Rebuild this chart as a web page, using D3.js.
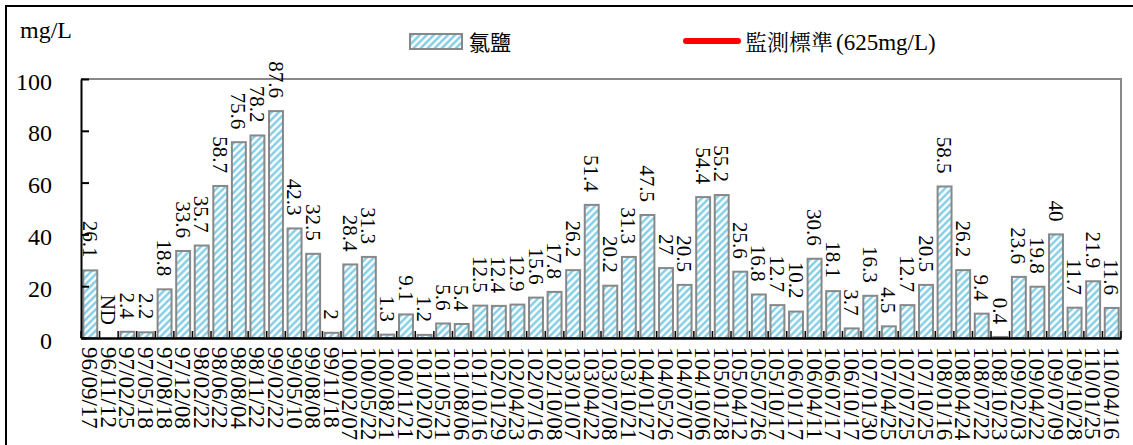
<!DOCTYPE html>
<html><head><meta charset="utf-8">
<script src="https://cdn.jsdelivr.net/npm/d3@7"></script>
<style>
html,body{margin:0;padding:0;background:#fff;}
svg{display:block;}
</style>
</head><body>
<svg id="chart" width="1133" height="445"></svg>
<script>
const categories = ["96/09/17","96/11/12","97/02/25","97/05/18","97/08/18","97/12/08","98/02/22","98/06/22","98/08/04","98/11/22","99/02/22","99/05/10","99/08/08","99/11/18","100/02/07","100/05/22","100/08/21","100/11/21","101/02/02","101/05/21","101/08/06","101/10/16","102/01/29","102/04/23","102/07/16","102/10/08","103/01/07","103/04/22","103/07/08","103/10/21","104/01/27","104/05/26","104/07/07","104/10/06","105/01/28","105/04/12","105/07/26","105/10/17","106/01/17","106/04/11","106/07/17","106/10/17","107/01/30","107/04/25","107/07/25","107/10/25","108/01/16","108/04/24","108/07/22","108/10/23","109/02/03","109/04/22","109/07/09","109/10/28","110/01/25","110/04/16"];
const chloride = [26.1,null,2.4,2.2,18.8,33.6,35.7,58.7,75.6,78.2,87.6,42.3,32.5,2,28.4,31.3,1.3,9.1,1.2,5.6,5.4,12.5,12.4,12.9,15.6,17.8,26.2,51.4,20.2,31.3,47.5,27,20.5,54.4,55.2,25.6,16.8,12.7,10.2,30.6,18.1,3.7,16.3,4.5,12.7,20.5,58.5,26.2,9.4,0.4,23.6,19.8,40,11.7,21.9,11.6];
const ndLabel = "ND";
const yTicks = [0,20,40,60,80,100];
const seriesName = "氯鹽";
const standardName = "監測標準";
const standardUnit = "(625mg/L)";
const unitLabel = "mg/L";

const svg = d3.select("#chart");
const serif = "'Liberation Serif','Times New Roman',serif";
const cjk = "'Noto Sans CJK TC','Noto Sans CJK SC',sans-serif";
const cjkSerif = "'Noto Serif CJK TC','Noto Sans CJK TC',serif";

// outer frame
svg.append("rect").attr("x",6).attr("y",6).attr("width",1200).attr("height",500)
  .attr("fill","none").attr("stroke","#000").attr("stroke-width",2);

// pattern
const defs = svg.append("defs");
const pat = defs.append("pattern").attr("id","hatch").attr("patternUnits","userSpaceOnUse")
  .attr("width",5).attr("height",5).attr("patternTransform","rotate(45)");
pat.append("rect").attr("width",5).attr("height",5).attr("fill","#fff");
pat.append("line").attr("x1",1.5).attr("y1",0).attr("x2",1.5).attr("y2",5)
  .attr("stroke","#74c9e2").attr("stroke-width",2.2);

const L = 81, R = 1121, T = 79, B = 338;
const x = d3.scaleBand().domain(categories).range([L,R]).paddingInner(0.25).paddingOuter(0.125);
const y = d3.scaleLinear().domain([0,100]).range([B,T]);

// plot frame top/right gray
svg.append("path").attr("d",`M${L},${T}H${R}V${B}`).attr("fill","none").attr("stroke","#888").attr("stroke-width",2);

// bars
svg.append("g").selectAll("rect").data(categories.map((c,i)=>({c,v:chloride[i]})).filter(d=>d.v!==null))
  .join("rect")
  .attr("x",d=>x(d.c)).attr("width",x.bandwidth())
  .attr("y",d=>y(d.v)).attr("height",d=>Math.max(0,y(0)-y(d.v)))
  .attr("fill","url(#hatch)").attr("stroke","#888").attr("stroke-width",2);

// value labels
svg.append("g").selectAll("text").data(categories.map((c,i)=>({c,v:chloride[i]})))
  .join("text")
  .attr("transform",d=>`translate(${x(d.c)+x.bandwidth()/2},${y(d.v===null?0:d.v)-13}) rotate(90)`)
  .attr("text-anchor","end").attr("dy","0.35em")
  .attr("font-family",serif).attr("font-size",21).attr("fill","#000")
  .text(d=>d.v===null?ndLabel:d.v);

// y axis
const yAxis = svg.append("g").attr("transform",`translate(${L},0)`)
  .call(d3.axisLeft(y).tickValues(yTicks).tickSizeInner(-8).tickSizeOuter(0).tickPadding(29));
yAxis.select(".domain").attr("stroke","#000").attr("stroke-width",2);
yAxis.selectAll(".tick line").attr("stroke","#000").attr("stroke-width",2);
yAxis.selectAll(".tick text").attr("font-family",serif).attr("font-size",24).attr("fill","#000")
  .attr("dy","0.42em");

// x axis
const xAxis = svg.append("g").attr("transform",`translate(0,${B})`)
  .call(d3.axisBottom(x).tickSize(0).tickSizeOuter(0).tickPadding(0));
xAxis.select(".domain").attr("stroke","#000").attr("stroke-width",2.5);
xAxis.selectAll(".tick text")
  .attr("font-family",serif).attr("font-size",23).attr("fill","#000")
  .attr("text-anchor","start").attr("x",null).attr("y",null).attr("dy","0.35em")
  .attr("transform","translate(0,9) rotate(90)");
// boundary tick marks (inward)
const bounds = d3.range(categories.length+1).map(i=>x.range()[0]+i*x.step());
svg.append("g").selectAll("line").data(bounds).join("line")
  .attr("x1",d=>d).attr("x2",d=>d).attr("y1",B).attr("y2",B-7)
  .attr("stroke","#000").attr("stroke-width",1.5);

// unit label
svg.append("text").attr("x",20).attr("y",38)
  .attr("font-family",serif).attr("font-size",24).attr("fill","#000").text(unitLabel);

// legend
svg.append("rect").attr("x",410).attr("y",34).attr("width",52).attr("height",15)
  .attr("fill","url(#hatch)").attr("stroke","#888").attr("stroke-width",2);
svg.append("text").attr("x",469).attr("y",50).attr("font-family",cjk).attr("font-size",21)
  .attr("fill","#000").text(seriesName);
svg.append("line").attr("x1",686).attr("x2",738).attr("y1",41).attr("y2",41)
  .attr("stroke","#ff0000").attr("stroke-width",6).attr("stroke-linecap","round");
svg.append("text").attr("x",745).attr("y",50).attr("font-family",cjkSerif).attr("font-size",22)
  .attr("fill","#000").text(standardName);
svg.append("text").attr("x",836).attr("y",50).attr("font-family",serif).attr("font-size",23)
  .attr("fill","#000").text(standardUnit);
</script>
</body></html>
